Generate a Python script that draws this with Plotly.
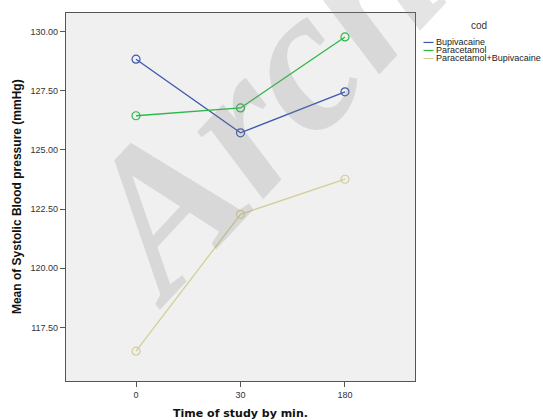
import plotly.graph_objects as go

times = ["0", "30", "180"]
series_names = ["Bupivacaine", "Paracetamol", "Paracetamol+Bupivacaine"]
bupivacaine = [128.83, 125.72, 127.45]
paracetamol = [126.44, 126.77, 129.77]
para_bupi = [116.50, 122.28, 123.76]
colors = ["#3E58AC", "#2EB848", "#D3CE97"]
y_ticks = [117.5, 120.0, 122.5, 125.0, 127.5, 130.0]

L, R, T, B = 66, 415.5, 13.3, 380.7
PW, PH = R - L, B - T


def px(x):
    return (x - L) / PW


def py(y):
    return 1 - (y - T) / PH


fig = go.Figure()
for name, vals, col in zip(series_names, [bupivacaine, paracetamol, para_bupi], colors):
    fig.add_trace(go.Scatter(
        x=times, y=vals, name=name, mode="lines+markers",
        line=dict(color=col, width=1.3),
        marker=dict(symbol="circle-open", size=8, color=col, line=dict(width=1.2)),
        showlegend=False,
    ))

# Watermark
fig.add_annotation(
    text="<b><i>Archive</i></b>", xref="paper", yref="paper",
    x=px(338), y=py(18), xanchor="center", yanchor="middle",
    showarrow=False, textangle=-47,
    font=dict(family="Liberation Serif", size=205, color="rgba(130,130,130,0.22)"),
)

# Y axis title
fig.add_annotation(text="<b>Mean of Systolic Blood pressure (mmHg)</b>", xref="paper", yref="paper",
                   x=px(17), y=0.5, xanchor="center", yanchor="middle", showarrow=False,
                   textangle=-90,
                   font=dict(family="Liberation Sans", size=12, color="#111"))

# Manual legend
fig.add_annotation(text="cod", xref="paper", yref="paper", x=px(479.6), y=py(25.7),
                   showarrow=False, xanchor="center", yanchor="middle",
                   font=dict(family="Liberation Sans", size=10, color="#333"))
leg_y = [42.7, 50.7, 58.7]
for name, col, yy in zip(series_names, colors, leg_y):
    yp = py(yy)
    fig.add_shape(type="line", xref="paper", yref="paper",
                  x0=px(424), x1=px(434), y0=yp, y1=yp,
                  line=dict(color=col, width=1.2))
    fig.add_annotation(text=name, xref="paper", yref="paper",
                       x=px(434.5), y=yp, xanchor="left", yanchor="middle",
                       showarrow=False,
                       font=dict(family="Liberation Sans", size=9, color="#222"))

fig.update_layout(
    width=543, height=420,
    margin=dict(l=L, r=543 - R, t=T, b=420 - B, autoexpand=False),
    paper_bgcolor="white", plot_bgcolor="#F0F0F0",
    font=dict(family="Liberation Sans", size=9, color="#333"),
    showlegend=False,
)
fig.update_xaxes(
    type="category", range=[-0.67, 2.67], automargin=False,
    title=dict(text="<b>Time of study by min.</b>", font=dict(size=11, color="#111", family="DejaVu Sans")),
    showgrid=False, zeroline=False,
    showline=True, linecolor="#555", linewidth=1.3, mirror=True,
    ticks="outside", ticklen=5, tickcolor="#555",
    tickfont=dict(size=9, color="#333"),
)
fig.update_yaxes(
    range=[115.24, 130.78], tickvals=y_ticks, tickformat=".2f", automargin=False,
    showgrid=False, zeroline=False,
    showline=True, linecolor="#555", linewidth=1.3, mirror=True,
    ticks="outside", ticklen=5, tickcolor="#555",
    tickfont=dict(size=9, color="#333"),
)

fig.write_html("out.html")
